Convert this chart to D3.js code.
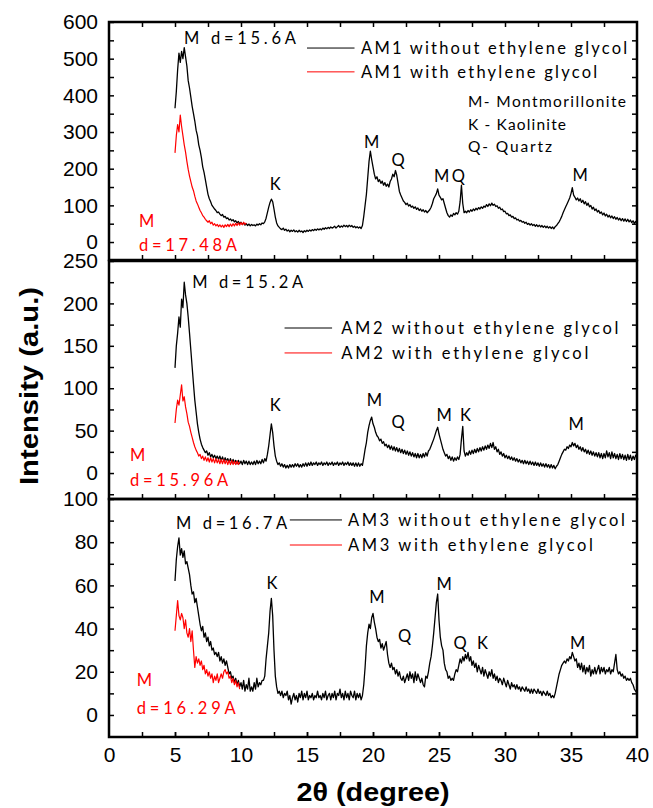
<!DOCTYPE html>
<html>
<head>
<meta charset="utf-8">
<script src="https://cdn.jsdelivr.net/npm/d3@7"></script>
<style>
  html, body { margin: 0; padding: 0; background: #fff; }
  svg { display: block; }
</style>
</head>
<body>
<svg id="chart" width="653" height="808"></svg>
<script>
// ---------------- DATA ----------------
const blackStart = 5.0, blackStep = 0.1;   // 5.0 .. 40.0 deg
const redStart = 5.0, redStep = 0.1;

const am1Without = [
  365,410,470,515,490,520,500,530,505,480,
  440,420,395,370,350,330,305,290,265,250,
  230,205,190,170,150,130,118,110,100,95,
  90,86,80,82,76,72,75,68,70,64,
  66,60,63,58,61,55,58,52,56,50,
  54,48,52,46,50,45,49,44,48,45,
  47,44,49,46,50,47,52,50,55,65,
  80,95,108,117,110,90,68,52,44,40,
  36,34,38,32,35,30,33,28,32,29,
  33,28,31,27,32,28,30,26,31,28,
  32,29,33,30,34,31,35,32,36,33,
  36,33,38,35,39,36,40,37,41,38,
  40,43,38,42,45,40,44,41,46,42,
  45,41,46,42,45,40,43,39,42,38,
  41,37,45,70,100,130,175,220,248,225,
  205,185,172,178,165,170,160,166,155,162,
  152,158,150,165,172,185,178,195,182,160,
  138,128,120,112,108,102,106,98,102,95,
  98,92,96,89,93,86,90,84,88,82,
  86,80,84,88,95,105,118,125,132,145,
  128,122,115,118,105,92,80,72,68,74,
  70,78,74,80,76,84,110,155,105,80,
  84,80,86,82,88,84,90,86,92,88,
  94,90,96,92,98,95,102,97,104,99,
  106,100,103,97,99,92,95,88,90,83,
  84,77,78,72,74,68,70,64,66,60,
  62,57,59,54,56,51,54,48,51,46,
  50,45,48,43,47,42,46,41,45,40,
  44,39,43,38,42,37,41,36,42,45,
  50,55,62,70,80,88,96,104,112,120,
  132,148,128,122,115,120,112,118,108,114,
  104,110,100,106,96,100,90,95,86,90,
  82,86,78,82,74,79,71,76,68,73,
  66,71,64,69,62,67,60,65,58,64,
  57,63,56,62,55,60,53,58,51,56,50
];
const am1With = [
  243,290,320,300,346,315,290,265,245,220,
  198,180,165,150,140,125,112,104,95,86,
  80,72,68,62,58,54,58,50,54,46,
  50,44,48,42,47,41,46,40,47,42,
  48,42,49,43,50,44,51,45,52,46,
  53,47,54,48,52
];
const am2Without = [
  124,150,165,184,172,205,195,225,210,200,
  184,165,145,125,105,86,72,58,48,40,
  34,30,27,24,26,21,24,19,22,18,
  21,17,20,16,20,15,19,14,18,14,
  17,13,17,12,16,12,15,11,15,11,
  14,10,15,11,14,10,14,10,13,10,
  14,10,15,11,14,11,16,12,17,14,
  22,32,45,58,48,32,20,14,10,12,
  8,11,7,10,6,9,6,10,7,10,
  7,11,8,11,7,10,7,11,8,12,
  8,12,9,13,9,12,10,13,9,12,
  10,13,9,12,10,13,9,12,10,13,
  9,12,10,13,9,12,10,13,9,12,
  10,13,9,12,9,12,8,12,8,12,
  8,11,9,18,28,36,48,56,62,66,
  58,54,48,44,42,38,40,35,37,32,
  34,30,33,28,32,27,31,26,30,25,
  29,24,28,23,27,22,26,21,25,20,
  24,19,23,18,23,18,22,18,23,19,
  24,20,26,28,32,36,40,45,50,54,
  46,40,34,28,24,20,22,17,20,15,
  19,14,18,15,19,16,22,40,55,26,
  20,24,21,26,22,27,23,28,24,29,
  25,30,26,31,27,32,28,33,29,35,
  30,36,28,31,25,28,22,25,20,23,
  18,21,17,20,16,19,15,18,14,17,
  13,16,12,15,11,15,11,14,10,14,
  10,13,9,13,9,12,8,12,8,11,
  7,11,7,10,6,10,6,9,5,8,
  10,14,18,22,25,28,27,31,29,33,
  31,36,32,35,30,33,28,31,26,30,
  25,28,23,27,22,26,21,25,20,24,
  19,24,18,23,17,23,18,26,19,24,
  17,25,18,23,17,22,16,23,17,22,
  16,21,15,22,16,21,15,20,16,21,18
];
const am2With = [
  59,75,86,80,92,104,85,90,78,70,
  60,55,48,42,36,31,27,24,20,22,
  17,20,15,19,14,18,13,18,13,17,
  12,17,12,16,11,16,11,16,11,15,
  10,15,10,15,10,14,10,14,10,13
];
const am3Without = [
  62,72,78,82,74,77,73,76,70,71,
  68,65,60,56,57,52,54,50,46,42,
  39,41,36,38,34,36,32,34,30,31,
  28,29,27,29,25,27,24,26,23,25,
  22,19,20,17,18,15,17,14,16,13,
  15,12,16,11,14,12,17,11,13,11,
  15,12,17,13,15,14,16,16,18,26,
  32,38,48,54,46,30,18,13,10,11,
  9,11,8,10,9,11,7,9,5,8,
  10,7,9,6,10,8,11,7,10,8,
  11,7,9,8,10,7,9,8,11,8,
  9,7,10,8,11,7,9,10,7,10,
  8,11,7,10,9,12,8,10,7,11,
  8,10,7,11,9,8,11,7,10,8,
  10,7,9,14,22,32,38,42,40,45,
  47,43,40,36,34,35,31,33,30,32,
  34,28,24,22,24,21,22,19,21,18,
  20,17,16,18,15,17,19,16,20,17,
  19,15,20,16,19,17,15,17,14,13,
  18,17,20,24,27,32,38,45,52,56,
  44,36,32,30,24,21,20,17,18,16,
  17,16,19,21,20,23,26,24,27,25,
  28,26,29,25,27,23,25,22,24,20,
  23,21,19,22,18,21,19,17,20,18,
  21,17,19,16,18,15,17,16,14,17,
  15,13,16,14,12,15,13,14,12,14,
  12,13,11,13,12,11,13,11,12,10,
  12,10,12,11,10,12,10,11,9,11,
  10,9,11,9,10,8,9,8,10,13,
  16,19,21,23,24,25,24,26,25,27,
  26,29,27,25,26,22,24,21,24,20,
  23,19,22,20,23,18,21,19,22,19,
  21,23,19,22,20,22,19,21,20,22,
  19,21,20,24,28,21,19,20,18,19,
  17,18,16,17,16,17,15,14,12,11,10
];
const am3With = [
  39,46,53,46,44,47,45,40,44,38,
  36,40,34,39,30,22,27,24,26,23,
  25,21,23,19,21,18,20,17,19,15,
  18,16,19,15,17,19,17,20,21,19,
  20,17,18,15,17,14,16,13,15,12
];

const xTickValues = [0,5,10,15,20,25,30,35,40];
const seriesNames = [
  ["AM1 without ethylene glycol","AM1 with ethylene glycol"],
  ["AM2 without ethylene glycol","AM2 with ethylene glycol"],
  ["AM3 without ethylene glycol","AM3 with ethylene glycol"]
];
const peakLabels = [
  [[5.68,556,"M d=15.6A"],[12.6,158,"K"],[19.9,273,"M"],[21.9,224,"Q"],[25.8,180,"MQ"],[35.7,183,"M"]],
  [[6.3,225,"M d=15.2A"],[12.6,80,"K"],[20.1,86,"M"],[21.9,60,"Q"],[25.4,68.5,"M"],[27.0,68.5,"K"],[35.4,57.8,"M"]],
  [[5.08,88.9,"M d=16.7A"],[12.35,61,"K"],[20.3,54.6,"M"],[22.4,36.6,"Q"],[25.4,60.6,"M"],[26.6,33.3,"Q"],[28.3,33.3,"K"],[35.5,33.3,"M"]]
];
const redLabels = [
  ["M","d=17.48A"],["M","d=15.96A"],["M","d=16.29A"]
];
const keyLabels = ["M- Montmorillonite","K - Kaolinite","Q- Quartz"];

// ---------------- LAYOUT ----------------
const svg = d3.select("#chart");
const x = d3.scaleLinear().domain([0,40]).range([109,637]);

const panels = [
  { blk: am1Without, red: am1With, domain:[-49,600], range:[260,22], major:d3.range(0,601,100), minor:d3.range(-50,601,50) },
  { blk: am2Without, red: am2With, domain:[-30.6,250], range:[499,261], major:d3.range(0,251,50), minor:d3.range(-25,251,25) },
  { blk: am3Without, red: am3With, domain:[-10.2,100], range:[737,499], major:d3.range(0,101,20), minor:d3.range(-10,101,10) }
];

const legendPos = [
  { x1:15.0, x2:18.6, tx:19.1, y1:529, y2:464, len1:266, len2:236 },
  { x1:13.3, x2:16.9, tx:17.6, y1:171, y2:141.6, len1:277, len2:247 },
  { x1:13.7, x2:17.65, tx:18.1, y1:90.3, y2:78.7, len1:277, len2:245 }
];
const peakLen = { "M d=15.6A":112, "M d=15.2A":111, "M d=16.7A":111, "MQ":31 };
const redPos = [
  { x:2.27, y1:57, y2:-8, len:98 },
  { x:1.6, y1:21.3, y2:-8.2, len:98 },
  { x:2.1, y1:16.2, y2:3.2, len:99 }
];
const keyPos = { x:27.2, ys:[385,322,262], lens:[158,98,84] };

const annoFont = "Lato, 'Open Sans', sans-serif";
const tickFont = "'Liberation Sans', Arial, sans-serif";

panels.forEach((p, i) => {
  const y = d3.scaleLinear().domain(p.domain).range(p.range);
  const g = svg.append("g");

  const xsB = d3.range(p.blk.length).map(k => blackStart + k*blackStep);
  const xsR = d3.range(p.red.length).map(k => redStart + k*redStep);
  const line = d3.line().x(d => x(d[0])).y(d => y(d[1]));
  g.append("path").datum(p.blk.map((v,k)=>[xsB[k],v]))
    .attr("d", line).attr("fill","none").attr("stroke","#000").attr("stroke-width",1.3)
    .attr("stroke-linejoin","round");
  g.append("path").datum(p.red.map((v,k)=>[xsR[k],v]))
    .attr("d", line).attr("fill","none").attr("stroke","#ff0000").attr("stroke-width",1.2)
    .attr("stroke-linejoin","round");

  const leftMinor = d3.axisLeft(y).tickValues(p.minor.filter(v=>v>p.domain[0] && v<=p.domain[1])).tickSize(-5).tickFormat("");
  g.append("g").attr("transform",`translate(${x(0)},0)`).call(leftMinor).call(a=>a.select(".domain").remove())
    .selectAll("line").attr("stroke","#000").attr("stroke-width",1.5);
  const leftMajor = d3.axisLeft(y).tickValues(p.major).tickSize(0).tickPadding(11);
  g.append("g").attr("transform",`translate(${x(0)},0)`).call(leftMajor).call(a=>a.select(".domain").remove())
    .selectAll("text").attr("font-family",tickFont).attr("font-size",21).attr("fill","#000");

  const rightMinor = d3.axisRight(y).tickValues(p.minor.filter(v=>v>p.domain[0] && v<p.domain[1])).tickSize(-5).tickFormat("");
  g.append("g").attr("transform",`translate(${x(40)},0)`).call(rightMinor).call(a=>a.select(".domain").remove())
    .selectAll("line").attr("stroke","#000").attr("stroke-width",1.5);

  const xMinor = d3.range(2.5,40,2.5);
  const bot = d3.axisBottom(x).tickValues(xMinor).tickSize(-5).tickFormat("");
  g.append("g").attr("transform",`translate(0,${p.range[0]})`).call(bot).call(a=>a.select(".domain").remove())
    .selectAll("line").attr("stroke","#000").attr("stroke-width",1.5);
  if (i === 0) {
    const top = d3.axisTop(x).tickValues(xMinor).tickSize(-5).tickFormat("");
    g.append("g").attr("transform",`translate(0,${p.range[1]})`).call(top).call(a=>a.select(".domain").remove())
      .selectAll("line").attr("stroke","#000").attr("stroke-width",1.5);
  }

  g.append("rect").attr("x",x(0)).attr("y",p.range[1]).attr("width",x(40)-x(0)).attr("height",p.range[0]-p.range[1])
    .attr("fill","none").attr("stroke","#000").attr("stroke-width",2.5);

  const L = legendPos[i];
  g.append("line").attr("x1",x(L.x1)).attr("x2",x(L.x2)).attr("y1",y(L.y1)).attr("y2",y(L.y1)).attr("stroke","#000").attr("stroke-width",1);
  g.append("line").attr("x1",x(L.x1)).attr("x2",x(L.x2)).attr("y1",y(L.y2)).attr("y2",y(L.y2)).attr("stroke","#ff0000").attr("stroke-width",1);
  g.append("text").attr("x",x(L.tx)).attr("y",y(L.y1)).attr("dominant-baseline","central")
    .attr("font-family",annoFont).attr("font-size",16.5).attr("textLength",L.len1).attr("lengthAdjust","spacing")
    .text(seriesNames[i][0]);
  g.append("text").attr("x",x(L.tx)).attr("y",y(L.y2)).attr("dominant-baseline","central")
    .attr("font-family",annoFont).attr("font-size",16.5).attr("textLength",L.len2).attr("lengthAdjust","spacing")
    .text(seriesNames[i][1]);

  peakLabels[i].forEach(([tx,ty,t]) => {
    const isHeader = t.startsWith("M d=");
    const el = g.append("text").attr("x",x(tx)).attr("y",y(ty)).attr("dominant-baseline","central")
      .attr("font-family",annoFont).attr("font-size",16.5)
      .attr("text-anchor", isHeader ? "start" : "middle").text(t);
    if (peakLen[t]) el.attr("textLength",peakLen[t]).attr("lengthAdjust","spacing");
  });

  const R = redPos[i];
  g.append("text").attr("x",x(R.x)).attr("y",y(R.y1)).attr("dominant-baseline","central")
    .attr("font-family",annoFont).attr("font-size",16.5).attr("fill","#ff0000").text(redLabels[i][0]);
  g.append("text").attr("x",x(R.x)).attr("y",y(R.y2)).attr("dominant-baseline","central")
    .attr("font-family",annoFont).attr("font-size",16.5).attr("fill","#ff0000")
    .attr("textLength",R.len).attr("lengthAdjust","spacing").text(redLabels[i][1]);

  if (i === 0) {
    keyLabels.forEach((t,k) => {
      g.append("text").attr("x",x(keyPos.x)).attr("y",y(keyPos.ys[k])).attr("dominant-baseline","central")
        .attr("font-family",annoFont).attr("font-size",15.5)
        .attr("textLength",keyPos.lens[k]).attr("lengthAdjust","spacing").text(t);
    });
  }

  if (i === 2) {
    const xa = d3.axisBottom(x).tickValues(xTickValues).tickSize(0).tickPadding(10);
    g.append("g").attr("transform",`translate(0,${p.range[0]})`).call(xa).call(a=>a.select(".domain").remove())
      .selectAll("text").attr("font-family",tickFont).attr("font-size",21).attr("fill","#000");
    g.append("g").attr("transform",`translate(0,${p.range[0]})`)
      .call(d3.axisBottom(x).tickValues([5,10,15,20,25,30,35]).tickSize(-5).tickFormat(""))
      .call(a=>a.select(".domain").remove())
      .selectAll("line").attr("stroke","#000").attr("stroke-width",1.5);
  }
});

svg.append("text").attr("x",373).attr("y",792).attr("text-anchor","middle").attr("dominant-baseline","central")
  .attr("font-family",tickFont).attr("font-weight","bold").attr("font-size",25)
  .attr("textLength",153).attr("lengthAdjust","spacingAndGlyphs")
  .text("2θ (degree)");
svg.append("text").attr("transform","translate(29,386) rotate(-90)").attr("text-anchor","middle").attr("dominant-baseline","central")
  .attr("font-family",tickFont).attr("font-weight","bold").attr("font-size",26)
  .attr("textLength",198).attr("lengthAdjust","spacingAndGlyphs")
  .text("Intensity (a.u.)");
</script>
</body>
</html>
